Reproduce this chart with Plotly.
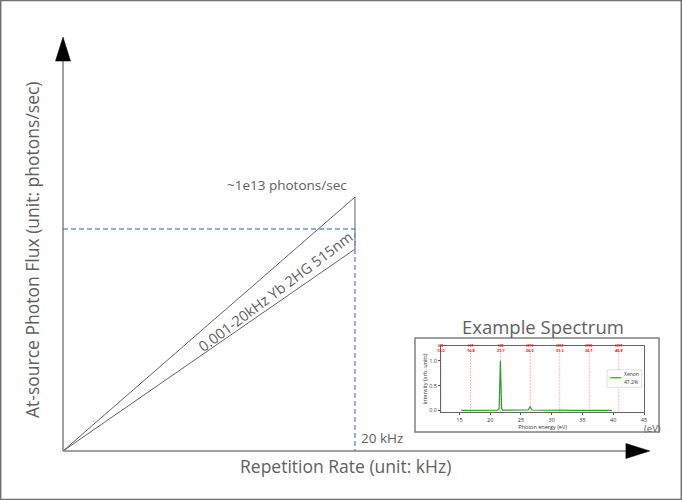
import plotly.graph_objects as go

# ---------------- Main schematic data ----------------
rep_rate_khz = [0, 20]            # repetition rate (kHz)
flux_upper = [0, 1.0]             # normalised flux, 1.0 ~ 1e13 photons/sec
flux_lower = [0, 0.795]
flux_marker = 0.874               # dashed guide level
axis_x_end = 40.2                 # arrow tip of x axis (kHz)
axis_y_end = 1.63                 # arrow tip of y axis

flux_label = "~1e13 photons/sec"
rate_label = "20 kHz"
band_label = "0.001-20kHz Yb 2HG 515nm"
x_title = "Repetition Rate (unit: kHz)"
y_title = "At-source Photon Flux (unit: photons/sec)"

# ---------------- Inset spectrum data ----------------
energy_ev = [15.3, 17.0, 19.0, 21.2, 21.45, 21.55, 21.65, 21.75, 21.85, 22.0, 23.5,
             26.2, 26.4, 26.5, 26.6, 26.8, 28.5, 31.1, 31.3, 31.5, 33.5, 36.0, 38.0, 39.8]
intensity = [0.004, 0.004, 0.005, 0.006, 0.04, 0.6, 1.0, 0.55, 0.05, 0.008, 0.005,
             0.01, 0.06, 0.08, 0.05, 0.01, 0.005, 0.008, 0.02, 0.008, 0.004, 0.004, 0.003, 0.003]
harmonic_orders = [5, 7, 9, 11, 13, 15, 17]
harmonic_ev = [12.0, 16.8, 21.7, 26.5, 31.3, 36.1, 40.9]
inset_xticks = [15, 20, 25, 30, 35, 40, 45]
inset_yticks = [0.0, 0.5, 1.0]
inset_ytick_text = ["0.0", "0.5", "1.0"]
legend_name = "Xenon"
legend_value = "47.2%"

W, H = 682, 500
X_RANGE = [-4.315, 42.40]
Y_RANGE = [-0.193, 1.776]
kx = W / (X_RANGE[1] - X_RANGE[0])   # px per kHz
ky = H / (Y_RANGE[1] - Y_RANGE[0])   # px per flux unit

GRAY_TXT = "#606060"
FONT = "Open Sans"

fig = go.Figure()

# triangle band
fig.add_trace(go.Scatter(
    x=[rep_rate_khz[0], rep_rate_khz[1], rep_rate_khz[1], rep_rate_khz[0]],
    y=[flux_upper[0], flux_upper[1], flux_lower[1], flux_lower[0]],
    mode="lines", line=dict(color="#3a3a3a", width=0.8),
    xaxis="x", yaxis="y", hoverinfo="skip"))

# dashed guide
fig.add_trace(go.Scatter(
    x=[rep_rate_khz[0], rep_rate_khz[1], rep_rate_khz[1]],
    y=[flux_marker, flux_marker, 0],
    mode="lines", line=dict(color="#7090d0", width=1.5, dash="5px,3px"),
    xaxis="x", yaxis="y", hoverinfo="skip"))

# axes lines
y_base = axis_y_end - 24 / ky
x_base = axis_x_end - 24 / kx
fig.add_trace(go.Scatter(x=[0, 0], y=[0, y_base], mode="lines",
                         line=dict(color="#808080", width=1.5), hoverinfo="skip"))
fig.add_trace(go.Scatter(x=[0, x_base], y=[0, 0], mode="lines",
                         line=dict(color="#808080", width=1.5), hoverinfo="skip"))

shapes = []
hw_x = 7.5 / kx
hw_y = 7.5 / ky
shapes.append(dict(type="path", xref="x", yref="y",
                   path=f"M {-hw_x},{y_base} L {hw_x},{y_base} L 0,{axis_y_end} Z",
                   fillcolor="black", line=dict(color="black", width=0.5)))
shapes.append(dict(type="path", xref="x", yref="y",
                   path=f"M {x_base},{-hw_y} L {x_base},{hw_y} L {axis_x_end},0 Z",
                   fillcolor="black", line=dict(color="black", width=0.5)))

# outer border
shapes.append(dict(type="rect", xref="paper", yref="paper", x0=0.001, x1=0.999, y0=0.001, y1=0.999,
                   line=dict(color="#707070", width=1.5)))

# inset box
shapes.append(dict(type="rect", xref="paper", yref="paper",
                   x0=415 / W, x1=659 / W, y0=1 - 432 / H, y1=1 - 338 / H,
                   line=dict(color="#808080", width=1.5)))

# ---------------- inset traces ----------------
for e in harmonic_ev:
    fig.add_trace(go.Scatter(x=[e, e], y=[-0.03, 1.2], mode="lines",
                             line=dict(color="#ff9a9a", width=0.7, dash="2px,1px"),
                             xaxis="x2", yaxis="y2", hoverinfo="skip"))
fig.add_trace(go.Scatter(x=energy_ev, y=intensity, mode="lines",
                         line=dict(color="#2ca02c", width=1.2),
                         xaxis="x2", yaxis="y2", hoverinfo="skip"))

# inset legend
shapes.append(dict(type="rect", xref="x2", yref="y2", x0=39.0, x1=44.6, y0=0.47, y1=0.82,
                   fillcolor="white", line=dict(color="#cccccc", width=0.6)))
shapes.append(dict(type="line", xref="x2", yref="y2", x0=39.5, x1=41.3, y0=0.66, y1=0.66,
                   line=dict(color="#2ca02c", width=1.2)))

C = dict(xanchor="center", yanchor="middle", showarrow=False)
annotations = [
    dict(x=15.34, y=1.047, xref="x", yref="y", text=flux_label, **C,
         font=dict(family=FONT, size=13.5, color=GRAY_TXT)),
    dict(x=20.25, y=0.052, xref="x", yref="y", text=rate_label, showarrow=False,
         xanchor="left", yanchor="middle",
         font=dict(family=FONT, size=13.5, color=GRAY_TXT)),
    dict(x=14.55, y=0.63, xref="x", yref="y", text=band_label, textangle=-37, **C,
         font=dict(family=FONT, size=14.5, color=GRAY_TXT)),
    dict(x=345 / W, y=1 - 466 / H, xref="paper", yref="paper", text=x_title, **C,
         font=dict(family=FONT, size=17.5, color=GRAY_TXT)),
    dict(x=32 / W, y=1 - 250 / H, xref="paper", yref="paper", text=y_title, **C,
         textangle=-90, font=dict(family=FONT, size=17.5, color=GRAY_TXT)),
    dict(x=543 / W, y=1 - 326 / H, xref="paper", yref="paper", text="Example Spectrum", **C,
         font=dict(family=FONT, size=18.5, color=GRAY_TXT)),
    dict(x=652 / W, y=1 - 428 / H, xref="paper", yref="paper", text="(eV)", **C,
         font=dict(family=FONT, size=9.5, color=GRAY_TXT)),
    dict(x=41.5, y=0.73, xref="x2", yref="y2", text=legend_name, showarrow=False,
         xanchor="left", yanchor="middle", font=dict(family=FONT, size=5, color="#333333")),
    dict(x=41.5, y=0.58, xref="x2", yref="y2", text=legend_value, showarrow=False,
         xanchor="left", yanchor="middle", font=dict(family=FONT, size=5, color="#333333")),
]
for n, e in zip(harmonic_orders, harmonic_ev):
    annotations.append(dict(x=e, y=1.25, xref="x2", yref="y2",
                            text=f"<b>H{n}<br>{e:.1f}</b>", **C,
                            font=dict(family=FONT, size=3.8, color="#ff0000")))

fig.update_layout(
    template="none",
    width=W, height=H,
    margin=dict(l=0, r=0, t=0, b=0),
    paper_bgcolor="white", plot_bgcolor="white",
    showlegend=False,
    xaxis=dict(domain=[0, 1], range=X_RANGE, visible=False, fixedrange=True),
    yaxis=dict(domain=[0, 1], range=Y_RANGE, visible=False, fixedrange=True),
    xaxis2=dict(domain=[441 / W, 644 / W], range=[12, 45], anchor="y2",
                tickvals=inset_xticks, ticks="outside", ticklen=2, tickwidth=0.6,
                tickcolor="#555", showline=True, mirror=True, linecolor="#666", linewidth=0.8,
                showgrid=False, zeroline=False, tickfont=dict(family=FONT, size=5.5, color="#333"),
                title=dict(text="Photon energy (eV)", font=dict(family=FONT, size=5.5, color="#333"),
                           standoff=1)),
    yaxis2=dict(domain=[1 - 412 / H, 1 - 346 / H], range=[-0.03, 1.3], anchor="x2",
                tickvals=inset_yticks, ticktext=inset_ytick_text, ticks="outside", ticklen=2,
                tickwidth=0.6, tickcolor="#555", showline=True, mirror=True, linecolor="#666",
                linewidth=0.8, showgrid=False, zeroline=False,
                tickfont=dict(family=FONT, size=5.5, color="#333"),
                title=dict(text="Intensity (arb. units)", font=dict(family=FONT, size=5.5, color="#333"),
                           standoff=1)),
    shapes=shapes,
    annotations=annotations,
)

fig.write_html("out.html", config={"displayModeBar": False},
               post_script="document.body.style.margin='0';document.body.style.overflow='hidden';")
